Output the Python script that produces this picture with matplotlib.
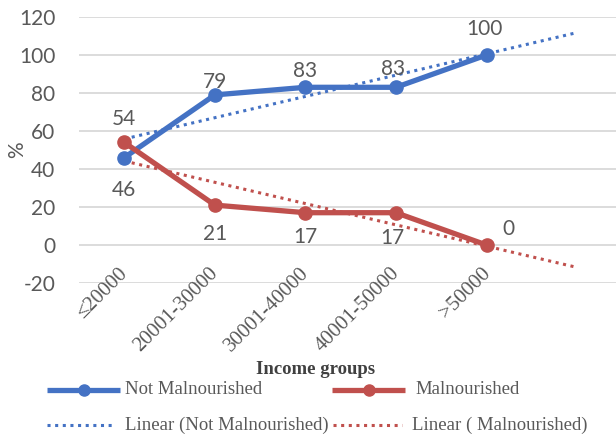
import numpy as np
import matplotlib
matplotlib.use("Agg")
import matplotlib.pyplot as plt
from matplotlib.lines import Line2D

categories = ["≤20000", "20001-30000", "30001-40000", "40001-50000", ">50000"]
not_malnourished = [46, 79, 83, 83, 100]
malnourished = [54, 21, 17, 17, 0]
y_ticks = [-20, 0, 20, 40, 60, 80, 100, 120]

BLUE = "#4472C4"
RED = "#C0504D"
GREY_TXT = "#595959"
SANS = ["Lato", "DejaVu Sans"]
SERIF = ["Liberation Serif", "DejaVu Serif"]
W, H = 616, 438

fig = plt.figure(figsize=(W / 100, H / 100), dpi=100)
ax = fig.add_axes([79 / W, 1 - 283 / H, 1 - 79 / W, (283 - 17) / H])

x = np.arange(len(categories))
DOTS = (0, (1, 1.5))

# linear trendlines, extended one period forward
x_fit = np.arange(len(categories) + 1)
for series, col in ((not_malnourished, BLUE), (malnourished, RED)):
    m, b = np.polyfit(x, series, 1)
    ax.plot(x_fit, m * x_fit + b, color=col, lw=2.2, ls=DOTS, zorder=2)

ax.plot(x, not_malnourished, color=BLUE, lw=3.8, marker="o", ms=9.5, zorder=3)
ax.plot(x, malnourished, color=RED, lw=3.8, marker="o", ms=9.5, zorder=4)

# value labels (offsets in pixels, label centre relative to the point)
nm_off = [(0, -32), (0, 13), (0, 16), (-3, 18), (-2, 26)]
ma_off = [(0, 23), (0, -29), (0, -24), (-4, -25), (22, 16)]
lbl = dict(fontsize=15, color=GREY_TXT, family=SANS, ha="center", va="center",
           textcoords="offset points")
for vals, offs in ((not_malnourished, nm_off), (malnourished, ma_off)):
    for i, (v, (dx, dy)) in enumerate(zip(vals, offs)):
        ax.annotate(str(v), (i, v), xytext=(dx * 0.72, dy * 0.72), **lbl)

ax.set_xlim(-0.5, 5.43)
ax.set_ylim(-20, 120)
ax.set_yticks(y_ticks)
ax.set_yticklabels([str(t) for t in y_ticks], fontsize=15, color=GREY_TXT, family=SANS)
ax.tick_params(axis="y", length=0, pad=17)
ax.set_xticks([])
ax.grid(axis="y", color="#D9D9D9", lw=1.3)
ax.set_axisbelow(True)
for s in ax.spines.values():
    s.set_visible(False)

for i, c in enumerate(categories):
    ax.text(i + 0.01, -13.5, c, rotation=45, rotation_mode="anchor", ha="right",
            va="center", fontsize=15, family=SERIF, color=GREY_TXT, clip_on=False)

fig.text(17 / W, 1 - 150 / H, "%", rotation=90, fontsize=15, color=GREY_TXT,
         family=SANS, ha="center", va="center")
fig.text(316 / W, 1 - 370 / H, "Income groups", fontsize=13.5, fontweight="bold",
         family=SERIF, color="#404040", ha="center", va="center")

# legend, laid out in two rows
def legend_entry(x0, x1, y, text, tx, col, solid):
    yf = 1 - y / H
    if solid:
        fig.add_artist(Line2D([x0 / W, x1 / W], [yf, yf], color=col, lw=3.8,
                              solid_capstyle="butt"))
        fig.add_artist(Line2D([(x0 + x1) / 2 / W], [yf], color=col, marker="o", ms=8))
    else:
        fig.add_artist(Line2D([x0 / W, x1 / W], [yf, yf], color=col, lw=2.2, ls=DOTS))
    fig.text(tx / W, yf, text, fontsize=13.5, family=SERIF, color=GREY_TXT,
             ha="left", va="center")

legend_entry(47, 120, 390, "Not Malnourished", 125, BLUE, True)
legend_entry(332, 405, 390, "Malnourished", 415, RED, True)
legend_entry(47, 114, 425, "Linear (Not Malnourished)", 125, BLUE, False)
legend_entry(333, 402, 425, "Linear ( Malnourished)", 412, RED, False)

fig.savefig("out.png", dpi=100)
